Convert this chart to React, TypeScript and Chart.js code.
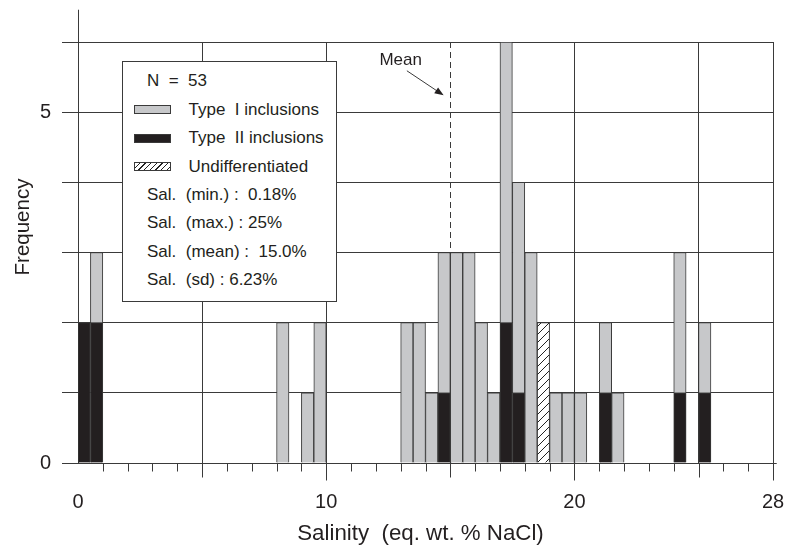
import React, { useEffect, useRef } from "react";
import { Chart, registerables } from "chart.js";

Chart.register(...registerables);

// ---- data (0.5 % bins) ----
const binWidth = 0.5;
const binStart = [0.0, 0.5, 8.0, 9.0, 9.5, 13.0, 13.5, 14.0, 14.5, 15.0, 15.5, 16.0, 16.5, 17.0, 17.5, 18.0, 18.5, 19.0, 19.5, 20.0, 21.0, 21.5, 24.0, 25.0];
const typeII = [2, 2, 0, 0, 0, 0, 0, 0, 1, 0, 0, 0, 0, 2, 1, 0, 0, 0, 0, 0, 1, 0, 1, 1];
const typeI = [0, 1, 2, 1, 2, 2, 2, 1, 2, 3, 3, 2, 1, 4, 3, 3, 0, 1, 1, 1, 1, 1, 2, 1];
const undiff = [0, 0, 0, 0, 0, 0, 0, 0, 0, 0, 0, 0, 0, 0, 0, 0, 2, 0, 0, 0, 0, 0, 0, 0];

const xTickLabels = [0, 10, 20, 28];
const yTickLabels = [0, 5];
const xMin = 0;
const xMax = 28;
const yMax = 6;
const meanValue = 15.0;
const sampleCount = 53;
const statLines = ["Sal.  (min.) :  0.18%", "Sal.  (max.) : 25%", "Sal.  (mean) :  15.0%", "Sal.  (sd) : 6.23%"];
const seriesLabels = ["Type  I inclusions", "Type  II inclusions", "Undifferentiated"];
const xTitle = "Salinity  (eq. wt. % NaCl)";
const yTitle = "Frequency";
const meanLabel = "Mean";
// annotation anchor points in data units
const meanLabelAt = { x: 13.0, y: 5.67 };
const arrowFrom = { x: 13.25, y: 5.59 };
const arrowTo = { x: 14.73, y: 5.24 };

// ---- styles ----
const FONT = '"Liberation Sans", Arial, Helvetica, sans-serif';
const TEXT = "#231f20";
const LINE = "#3a3a3a";
const GRAY = "#c7c8ca";
const BLACK = "#231f20";

function makeHatch(ctx: CanvasRenderingContext2D) {
  const c = document.createElement("canvas");
  c.width = 8;
  c.height = 8;
  const g = c.getContext("2d")!;
  g.fillStyle = "#ffffff";
  g.fillRect(0, 0, 8, 8);
  g.strokeStyle = "#222";
  g.lineWidth = 1;
  g.beginPath();
  g.moveTo(0, 8);
  g.lineTo(8, 0);
  g.moveTo(-1, 1);
  g.lineTo(1, -1);
  g.moveTo(7, 9);
  g.lineTo(9, 7);
  g.stroke();
  return ctx.createPattern(c, "repeat")!;
}

const toPoints = (vals: number[]) =>
  binStart.map((s, i) => ({ x: s + binWidth / 2, y: vals[i] === 0 ? null : vals[i] }));

const decorPlugin = {
  id: "decor",
  beforeDatasetsDraw(chart: any) {
    const { ctx, scales } = chart;
    const x = scales.x;
    const y = scales.y;
    ctx.save();
    ctx.strokeStyle = LINE;
    ctx.lineWidth = 1;
    ctx.setLineDash([6, 4]);
    const mx = Math.round(x.getPixelForValue(meanValue)) + 0.5;
    ctx.beginPath();
    ctx.moveTo(mx, y.getPixelForValue(yMax));
    ctx.lineTo(mx, y.getPixelForValue(0));
    ctx.stroke();
    ctx.restore();
  },
  afterDatasetsDraw(chart: any) {
    const { ctx, scales } = chart;
    const x = scales.x;
    const y = scales.y;
    ctx.save();
    ctx.strokeStyle = LINE;
    ctx.lineWidth = 1;
    // baseline
    const y0 = Math.round(y.getPixelForValue(0)) + 0.5;
    ctx.beginPath();
    ctx.moveTo(x.getPixelForValue(-0.52), y0);
    ctx.lineTo(x.getPixelForValue(xMax + 0.15), y0);
    ctx.stroke();
    // x tick marks
    for (let v = xMin + 1; v <= xMax; v++) {
      const len = xTickLabels.includes(v) ? 17 : v % 5 === 0 ? 14 : 8;
      const px = Math.round(x.getPixelForValue(v)) + 0.5;
      ctx.beginPath();
      ctx.moveTo(px, y0);
      ctx.lineTo(px, y0 + len);
      ctx.stroke();
    }
    // y axis above the frame
    const ax = Math.round(x.getPixelForValue(0)) + 0.5;
    ctx.beginPath();
    ctx.moveTo(ax, y.getPixelForValue(yMax));
    ctx.lineTo(ax, y.getPixelForValue(6.46));
    ctx.stroke();
    // mean label + arrow
    ctx.fillStyle = TEXT;
    ctx.font = `17px ${FONT}`;
    ctx.textAlign = "center";
    ctx.textBaseline = "alphabetic";
    ctx.fillText(meanLabel, x.getPixelForValue(meanLabelAt.x), y.getPixelForValue(meanLabelAt.y));
    const x1 = x.getPixelForValue(arrowFrom.x);
    const y1 = y.getPixelForValue(arrowFrom.y);
    const x2 = x.getPixelForValue(arrowTo.x);
    const y2 = y.getPixelForValue(arrowTo.y);
    const ang = Math.atan2(y2 - y1, x2 - x1);
    const L = 9;
    const W = 3.5;
    ctx.beginPath();
    ctx.moveTo(x1, y1);
    ctx.lineTo(x2 - 4 * Math.cos(ang), y2 - 4 * Math.sin(ang));
    ctx.stroke();
    ctx.beginPath();
    ctx.moveTo(x2, y2);
    ctx.lineTo(x2 - L * Math.cos(ang) + W * Math.sin(ang), y2 - L * Math.sin(ang) - W * Math.cos(ang));
    ctx.lineTo(x2 - L * Math.cos(ang) - W * Math.sin(ang), y2 - L * Math.sin(ang) + W * Math.cos(ang));
    ctx.closePath();
    ctx.fill();
    // axis titles
    ctx.font = `22.3px ${FONT}`;
    ctx.textAlign = "center";
    ctx.fillText(xTitle, 420.5, 540);
    ctx.translate(23, 227);
    ctx.rotate(-Math.PI / 2);
    ctx.font = `20.5px ${FONT}`;
    ctx.textBaseline = "middle";
    ctx.fillText(yTitle, 0, 0);
    ctx.restore();
  },
};

export default function App() {
  const ref = useRef<HTMLCanvasElement>(null);

  useEffect(() => {
    const canvas = ref.current!;
    const hatch = makeHatch(canvas.getContext("2d")!);
    const chart = new Chart(canvas, {
      type: "bar",
      data: {
        datasets: [
          { label: seriesLabels[1], data: toPoints(typeII) as any, backgroundColor: BLACK, borderColor: LINE, borderWidth: 1 },
          { label: seriesLabels[0], data: toPoints(typeI) as any, backgroundColor: GRAY, borderColor: LINE, borderWidth: 1 },
          { label: seriesLabels[2], data: toPoints(undiff) as any, backgroundColor: hatch as any, borderColor: LINE, borderWidth: 1 },
        ],
      },
      options: {
        animation: false,
        responsive: true,
        maintainAspectRatio: false,
        layout: { padding: { left: 0, top: 42, right: 25, bottom: 0 } },
        datasets: { bar: { barPercentage: 1, categoryPercentage: 1 } },
        plugins: { legend: { display: false }, tooltip: { enabled: false } },
        font: { family: FONT },
        scales: {
          x: {
            type: "linear",
            stacked: true,
            min: xMin,
            max: xMax,
            offset: false,
            afterFit: (s: any) => {
              s.height = 82;
            },
            grid: {
              offset: false,
              drawTicks: true,
              tickLength: 27,
              tickColor: "rgba(0,0,0,0)",
              lineWidth: 1,
              color: (c: any) => {
                const v = c.tick ? c.tick.value : -1;
                return ((v > 0 && v % 5 === 0) || v === xMax) && v !== meanValue ? LINE : "rgba(0,0,0,0)";
              },
            },
            border: { display: false },
            ticks: {
              stepSize: 1,
              autoSkip: false,
              maxRotation: 0,
              padding: 0,
              color: TEXT,
              font: { family: FONT, size: 20 },
              callback: (v: any) => (xTickLabels.includes(Number(v)) ? String(v) : ""),
            },
          },
          y: {
            stacked: true,
            min: 0,
            max: yMax,
            afterFit: (s: any) => {
              s.width = 78;
            },
            grid: {
              lineWidth: 1,
              drawTicks: true,
              tickLength: 16,
              tickColor: LINE,
              color: (c: any) => (c.tick && c.tick.value > 0 ? LINE : "rgba(0,0,0,0)"),
            },
            border: { display: true, color: LINE, width: 1 },
            ticks: {
              stepSize: 1,
              padding: 11,
              color: TEXT,
              font: { family: FONT, size: 20 },
              callback: (v: any) => (yTickLabels.includes(Number(v)) ? String(v) : ""),
            },
          },
        },
      } as any,
      plugins: [decorPlugin],
    });
    return () => chart.destroy();
  }, []);

  const rowTop = (i: number) => 10.3 + 28.41 * i;
  const swatchTop = (i: number) => 14.7 + 28.41 * i;
  const textStyle = (i: number, left: number): React.CSSProperties => ({
    position: "absolute",
    left,
    top: rowTop(i),
    lineHeight: 1,
    whiteSpace: "pre",
  });
  const swatchBase = (i: number): React.CSSProperties => ({
    position: "absolute",
    left: 11,
    top: swatchTop(i),
    width: 37,
    height: 9,
    boxSizing: "border-box",
    border: `1px solid ${LINE}`,
  });

  return (
    <div
      style={{
        position: "fixed",
        left: 0,
        top: 0,
        width: 798,
        height: 545,
        overflow: "hidden",
        background: "#fff",
      }}
    >
      <div style={{ position: "absolute", left: 0, top: 0, width: 798, height: 545 }}>
        <canvas ref={ref} style={{ display: "block" }} />
      </div>
      <div
        style={{
          position: "absolute",
          left: 122,
          top: 61,
          width: 215,
          height: 241,
          boxSizing: "border-box",
          border: `1px solid ${LINE}`,
          background: "#fff",
          fontFamily: FONT,
          fontSize: 17,
          color: TEXT,
        }}
      >
        <div style={textStyle(0, 24)}>{`N  =  ${sampleCount}`}</div>
        <div style={{ ...swatchBase(1), background: GRAY }} />
        <div style={textStyle(1, 65.5)}>{seriesLabels[0]}</div>
        <div style={{ ...swatchBase(2), background: BLACK }} />
        <div style={textStyle(2, 65.5)}>{seriesLabels[1]}</div>
        <div
          style={{
            ...swatchBase(3),
            background: `repeating-linear-gradient(135deg, #fff 0px, #fff 3px, #222 3px, #222 4px)`,
          }}
        />
        <div style={textStyle(3, 65.5)}>{seriesLabels[2]}</div>
        {statLines.map((s, k) => (
          <div key={k} style={textStyle(4 + k, 24)}>
            {s}
          </div>
        ))}
      </div>
    </div>
  );
}
